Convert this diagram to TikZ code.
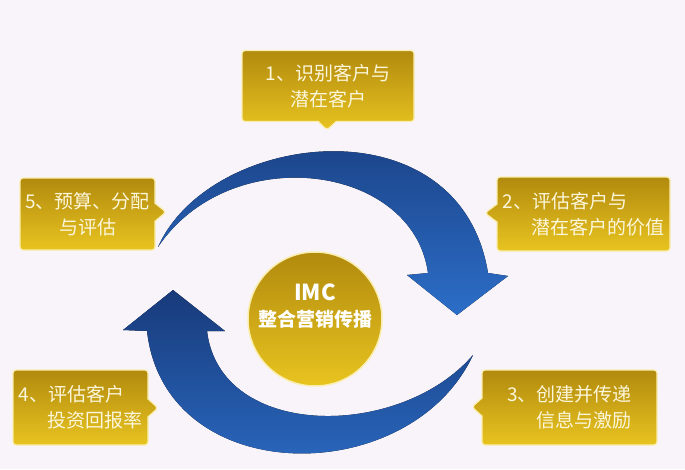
\documentclass[tikz,border=0pt]{standalone}
\usepackage{fontspec}
\setmainfont{Noto Sans CJK SC}
\usetikzlibrary{shapes.callouts,positioning}
\definecolor{bgpink}{RGB}{249,244,250}
\definecolor{golddark}{RGB}{178,138,14}
\definecolor{goldlight}{RGB}{232,196,32}
\definecolor{goldedge}{RGB}{250,238,175}
\definecolor{navyblue}{RGB}{24,58,122}
\definecolor{skyblue}{RGB}{44,110,200}
\definecolor{creamtext}{RGB}{252,246,218}

\begin{document}
\begin{tikzpicture}[x=1pt, y=-1pt,
    stepbox/.style={rectangle callout, draw=goldedge, line width=1.2pt, rounded corners=3pt,
               top color=golddark, bottom color=goldlight, inner sep=0pt,
               callout pointer width=18pt, text=creamtext, font=\fontsize{19}{26}\selectfont},
    hub/.style={circle, draw=goldedge, line width=1.5pt, top color=golddark, bottom color=goldlight,
               minimum size=134pt, inner sep=0pt},
    hubtext/.style={align=center, text=white, font=\bfseries\fontsize{19}{26}\selectfont}
]
    \useasboundingbox (0,0) rectangle (685,469);
    \fill[bgpink] (0,0) rectangle (685,469);

    \fill[top color=navyblue, bottom color=skyblue]
        (158,247) .. controls (210,130) and (460,100) .. (488,273) -- (508,276) -- (457,315)
        -- (407,275) -- (428,273) .. controls (413,163) and (230,140) .. (158,247) -- cycle;
    \fill[top color=navyblue, bottom color=skyblue]
        (173,290) -- (225,331) -- (207,331) .. controls (220,440) and (400,440) .. (473,355)
        .. controls (410,490) and (165,490) .. (147,331) -- (123,330) -- cycle;

    \node[stepbox, minimum width=172pt, minimum height=71pt, align=center,
          callout absolute pointer={(327,130)}] (s1) at (328,86) {1、识别客户与\\潜在客户};
    \node[stepbox, minimum width=173pt, minimum height=74pt, align=left,
          callout absolute pointer={(485,213)}] (s2) at (583.5,214) {2、评估客户与\\\hspace{1.5em}潜在客户的价值};
    \node[stepbox, minimum width=175pt, minimum height=75pt, align=right,
          callout absolute pointer={(472,407)}] (s3) at (569.5,407.5) {3、创建并传递\\信息与激励};
    \node[stepbox, minimum width=135pt, minimum height=75pt, align=left,
          callout absolute pointer={(158,408)}] (s4) at (80.5,407.5) {4、评估客户\\\hspace{1.5em}投资回报率};
    \node[stepbox, minimum width=135pt, minimum height=72pt, align=center,
          callout absolute pointer={(166,212)}] (s5) at (87.5,214) {5、预算、分配\\与评估};

    \node[hub] (imc) at (315,319) {};
    \node[hubtext] (imctext) at ([yshift=13pt]imc.center) {{\fontsize{22}{26}\selectfont IMC}\\整合营销传播};
\end{tikzpicture}
\end{document}
